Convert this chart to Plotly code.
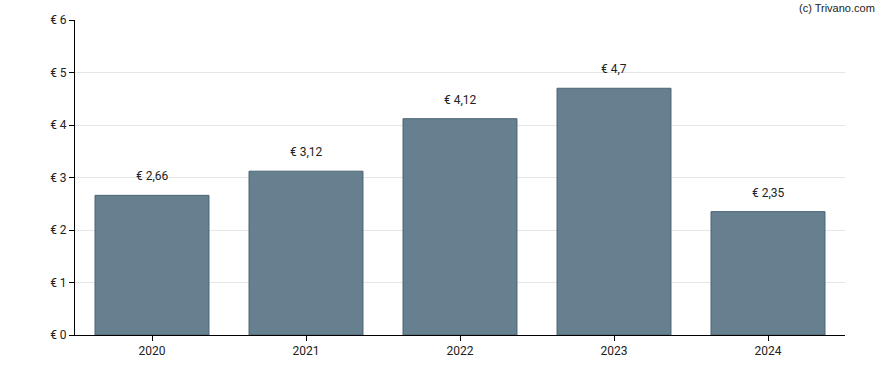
import plotly.graph_objects as go

years = ["2020", "2021", "2022", "2023", "2024"]
values = [2.66, 3.12, 4.12, 4.7, 2.35]
labels = ["€ 2,66", "€ 3,12", "€ 4,12", "€ 4,7", "€ 2,35"]
yticks = [0, 1, 2, 3, 4, 5, 6]
yticktext = ["€ 0", "€ 1", "€ 2", "€ 3", "€ 4", "€ 5", "€ 6"]

fig = go.Figure()
fig.add_trace(go.Bar(
    x=years, y=values,
    marker=dict(color="#66808f", line=dict(color="#4b6475", width=1)),
))
for i, (yv, t) in enumerate(zip(values, labels)):
    fig.add_annotation(x=i, y=yv, text=t, showarrow=False, yanchor="bottom",
                       yshift=10, font=dict(family="Roboto", size=12, color="#222"))
fig.update_layout(
    width=888, height=370,
    margin=dict(l=75, r=43, t=20, b=35),
    plot_bgcolor="white", paper_bgcolor="white",
    bargap=0.26, showlegend=False,
    font=dict(family="Roboto", size=12, color="#222"),
    xaxis=dict(type="category", range=[-0.5, len(years) - 0.5], showline=True,
               linecolor="black", linewidth=1, ticks="outside", ticklen=5,
               tickcolor="black", showgrid=False),
    yaxis=dict(range=[0, 6], tickvals=yticks, ticktext=yticktext, showline=True,
               linecolor="black", linewidth=1, ticks="outside", ticklen=5,
               tickcolor="black", gridcolor="#e6e6e6", zeroline=False),
)
fig.add_annotation(text="(c) Trivano.com", xref="paper", yref="paper",
                   x=1.0416, y=1.038, yanchor="middle", xanchor="right", showarrow=False,
                   font=dict(family="Liberation Sans", size=11, color="#222"))
fig.write_html("out.html", config={"displayModeBar": False},
               post_script="document.body.style.margin='0';")
